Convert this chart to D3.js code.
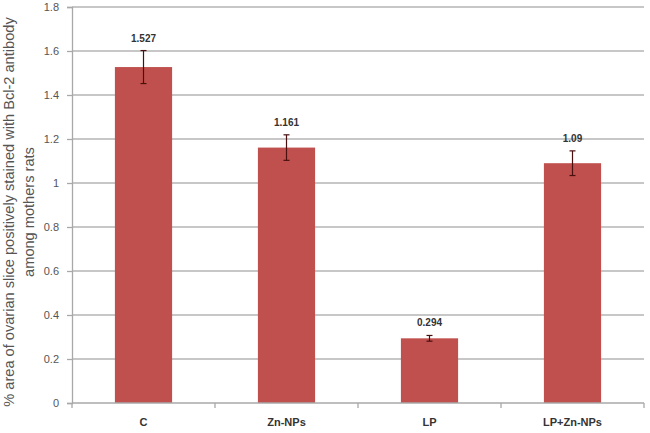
<!DOCTYPE html>
<html>
<head>
<meta charset="utf-8">
<script src="https://d3js.org/d3.v7.min.js"></script>
<style>
    body { margin: 0; background: #fff; }
    .grid line { stroke: #b4b4b4; stroke-width: 1.3px; }
    .axis path, .axis line { stroke: #a8a8a8; stroke-width: 1.3px; }
    .axis text { font-family: 'Liberation Sans', Arial, sans-serif; fill: #555; }
</style>
</head>
<body>
<div id="chart"></div>
<script>
    // values
    var groups = ["C", "Zn-NPs", "LP", "LP+Zn-NPs"];
    var means = [1.527, 1.161, 0.294, 1.09];
    var errors = [0.075, 0.058, 0.013, 0.056];
    var labels = ["1.527", "1.161", "0.294", "1.09"];
    var yTicks = [0, 0.2, 0.4, 0.6, 0.8, 1, 1.2, 1.4, 1.6, 1.8];

    var width = 650, height = 433;
    var margin = { top: 7, right: 6, bottom: 30, left: 72 };

    var svg = d3.select("#chart").append("svg")
        .attr("width", width)
        .attr("height", height);

    var x = d3.scaleBand()
        .domain(groups)
        .range([margin.left, width - margin.right])
        .paddingInner(0.6)
        .paddingOuter(0.3);

    var y = d3.scaleLinear()
        .domain([0, 1.8])
        .range([height - margin.bottom, margin.top]);

    // horizontal gridlines
    svg.append("g")
        .attr("class", "grid")
        .selectAll("line")
        .data(yTicks.slice(1))
        .enter().append("line")
        .attr("x1", margin.left)
        .attr("x2", width - margin.right)
        .attr("y1", function (d) { return y(d); })
        .attr("y2", function (d) { return y(d); });

    // y axis
    var yAxis = svg.append("g")
        .attr("class", "axis")
        .attr("transform", "translate(" + margin.left + ",0)")
        .call(d3.axisLeft(y).tickValues(yTicks).tickSize(5).tickPadding(8)
            .tickFormat(function (d) { return String(d); }));
    yAxis.selectAll("text").style("font-size", "11px");

    // bars
    svg.append("g")
        .selectAll("rect")
        .data(groups)
        .enter().append("rect")
        .attr("x", function (d) { return x(d); })
        .attr("width", x.bandwidth())
        .attr("y", function (d, i) { return y(means[i]); })
        .attr("height", function (d, i) { return y(0) - y(means[i]); })
        .attr("fill", "#c0504d");

    // x axis with ticks between categories
    var bounds = d3.range(groups.length + 1).map(function (i) {
        return margin.left + i * (width - margin.right - margin.left) / groups.length;
    });
    var xg = svg.append("g").attr("class", "axis");
    xg.append("path")
        .attr("d", "M" + margin.left + "," + y(0) + "H" + (width - margin.right));
    xg.selectAll("line")
        .data(bounds)
        .enter().append("line")
        .attr("x1", function (d) { return d; })
        .attr("x2", function (d) { return d; })
        .attr("y1", y(0))
        .attr("y2", y(0) + 5);
    xg.selectAll("text")
        .data(groups)
        .enter().append("text")
        .attr("x", function (d) { return x(d) + x.bandwidth() / 2; })
        .attr("y", y(0) + 23)
        .attr("text-anchor", "middle")
        .style("font-size", "11px")
        .style("font-weight", "bold")
        .style("fill", "#333")
        .text(function (d) { return d; });

    // error bars
    var eb = svg.append("g")
        .attr("stroke", "#4a1010")
        .attr("stroke-width", 1.2);
    groups.forEach(function (g, i) {
        var cx = x(g) + x.bandwidth() / 2;
        var top = y(means[i] + errors[i]), bot = y(means[i] - errors[i]);
        eb.append("line").attr("x1", cx).attr("x2", cx).attr("y1", top).attr("y2", bot);
        eb.append("line").attr("x1", cx - 3).attr("x2", cx + 3).attr("y1", top).attr("y2", top);
        eb.append("line").attr("x1", cx - 3).attr("x2", cx + 3).attr("y1", bot).attr("y2", bot);
    });

    // value labels
    svg.append("g")
        .selectAll("text")
        .data(groups)
        .enter().append("text")
        .attr("x", function (d) { return x(d) + x.bandwidth() / 2; })
        .attr("y", function (d, i) { return y(means[i] + errors[i]) - 9; })
        .attr("text-anchor", "middle")
        .style("font-family", "'Liberation Sans', Arial, sans-serif")
        .style("font-size", "10px")
        .style("font-weight", "bold")
        .style("fill", "#333")
        .text(function (d, i) { return labels[i]; });

    // y axis title, two lines
    var title = svg.append("text")
        .attr("transform", "translate(14," + 212 + ") rotate(-90)")
        .attr("text-anchor", "middle")
        .style("font-family", "'Liberation Sans', Arial, sans-serif")
        .style("font-size", "14.6px")
        .style("fill", "#555");
    title.append("tspan").attr("x", 0).attr("dy", 0)
        .text("% area of ovarian slice positively stained with Bcl-2 antibody");
    title.append("tspan").attr("x", 0).attr("dy", "1.35em")
        .text("among mothers rats");
</script>
</body>
</html>
